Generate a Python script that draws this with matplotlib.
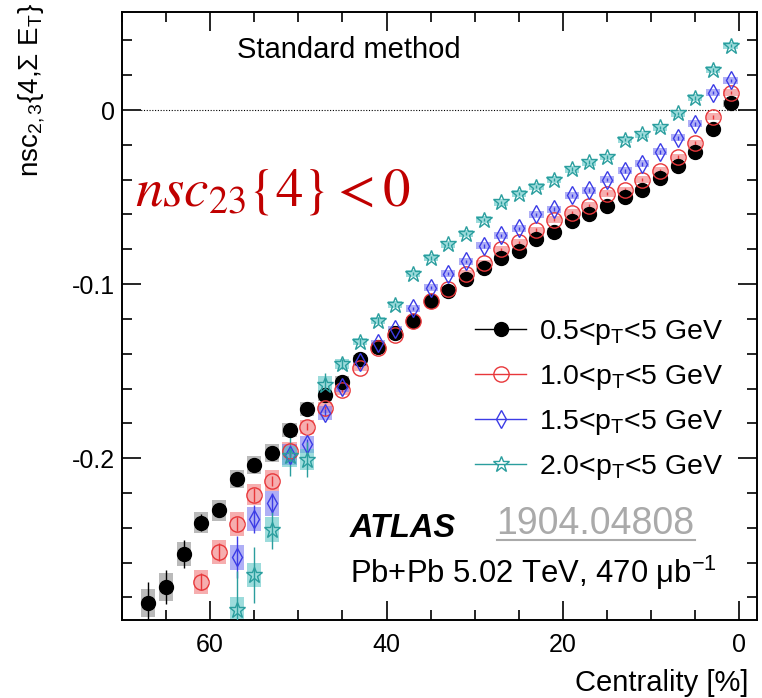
import numpy as np
import matplotlib
matplotlib.use("Agg")
import matplotlib.pyplot as plt
from matplotlib.lines import Line2D
from matplotlib.ticker import MultipleLocator

plt.rcParams['font.family'] = ['Liberation Sans', 'DejaVu Sans']
plt.rcParams['mathtext.fontset'] = 'custom'
plt.rcParams['mathtext.rm'] = 'Liberation Sans'
plt.rcParams['mathtext.it'] = 'Liberation Sans:italic'
plt.rcParams['mathtext.bf'] = 'Liberation Sans:bold'

# centrality bin centres [%]
cent = np.arange(1, 68, 2)

# nsc_{2,3}{4, Sigma E_T} for four pT ranges
nsc_05 = [0.004, -0.011, -0.024, -0.032, -0.039, -0.046, -0.050, -0.055, -0.060, -0.064,
          -0.070, -0.074, -0.081, -0.085, -0.091, -0.097, -0.104, -0.110, -0.121, -0.128,
          -0.136, -0.143, -0.156, -0.164, -0.172, -0.184, -0.197, -0.204, -0.212, -0.230,
          -0.237, -0.255, -0.274, -0.283]
nsc_10 = [0.010, -0.004, -0.019, -0.027, -0.035, -0.040, -0.046, -0.048, -0.055, -0.059,
          -0.063, -0.069, -0.076, -0.080, -0.088, -0.094, -0.103, -0.110, -0.121, -0.129,
          -0.137, -0.148, -0.161, -0.171, -0.182, -0.196, -0.213, -0.221, -0.238, -0.254,
          -0.271]
nsc_15 = [0.017, 0.010, -0.008, -0.016, -0.024, -0.031, -0.035, -0.040, -0.046, -0.049,
          -0.057, -0.060, -0.068, -0.072, -0.078, -0.087, -0.094, -0.102, -0.114, -0.126,
          -0.134, -0.145, -0.159, -0.174, -0.192, -0.198, -0.226, -0.235, -0.257]
nsc_20 = [0.037, 0.023, 0.007, -0.002, -0.010, -0.014, -0.017, -0.027, -0.030, -0.034,
          -0.040, -0.044, -0.048, -0.053, -0.063, -0.071, -0.077, -0.085, -0.094, -0.112,
          -0.121, -0.133, -0.146, -0.158, -0.201, -0.199, -0.241, -0.267, -0.287]

# statistical errors
stat_05 = [0.001] * 26 + [0.002, 0.002, 0.003, 0.004, 0.005, 0.008, 0.010, 0.012]
stat_10 = [0.001] * 24 + [0.002, 0.003, 0.003, 0.004, 0.004, 0.005, 0.005]
stat_15 = [0.001] * 23 + [0.002, 0.003, 0.004, 0.006, 0.008, 0.012]
stat_20 = [0.001] * 20 + [0.002, 0.002, 0.003, 0.007, 0.010, 0.011, 0.011, 0.016, 0.022]

# systematic errors
syst_05 = [0.002] * 22 + [0.003, 0.003, 0.004, 0.004, 0.005, 0.005, 0.005, 0.006,
                          0.006, 0.007, 0.008, 0.008]
syst_10 = [0.002] * 22 + [0.003, 0.003, 0.004, 0.005, 0.006, 0.006, 0.007, 0.007, 0.007]
syst_15 = [0.002] * 22 + [0.003, 0.004, 0.005, 0.006, 0.007, 0.007, 0.007]
syst_20 = [0.002] * 22 + [0.003, 0.005, 0.006, 0.006, 0.007, 0.007, 0.007]

labels = [r'0.5<p$_{\mathrm{T}}$<5 GeV', r'1.0<p$_{\mathrm{T}}$<5 GeV',
          r'1.5<p$_{\mathrm{T}}$<5 GeV', r'2.0<p$_{\mathrm{T}}$<5 GeV']

series = [
    (nsc_05, stat_05, syst_05, 'black', '#8c8c8c', 'o', 'black', 10),
    (nsc_10, stat_10, syst_10, '#e8373a', '#f0787a', 'o', 'none', 11),
    (nsc_15, stat_15, syst_15, '#3c3ce6', '#7a7af0', 'd', 'none', 9),
    (nsc_20, stat_20, syst_20, '#2a9e9e', '#5cc6c6', '*', 'none', 12),
]

fig = plt.figure(figsize=(7.62, 6.98), dpi=100)
ax = fig.add_axes([0.160, 0.1117, 0.8334, 0.8711])

handles = []
for vals, stat, syst, col, boxcol, mk, face, ms in series:
    n = len(vals)
    x = cent[:n]
    y = np.array(vals)
    # systematic boxes
    ax.bar(x, 2 * np.array(syst), bottom=y - np.array(syst), width=1.6,
           color=boxcol, alpha=0.6, linewidth=0, zorder=2)
    ax.errorbar(x, y, yerr=stat, fmt='none', ecolor=col, elinewidth=1.0, zorder=3)
    ax.plot(x, y, linestyle='none', marker=mk, markersize=ms, markerfacecolor=face,
            markeredgecolor=col, markeredgewidth=1.0, zorder=4)
    handles.append(Line2D([], [], color=col, lw=1.0, marker=mk, markersize=ms,
                          markerfacecolor=face, markeredgecolor=col))

ax.hlines(0, 0, 68, colors='black', linestyles=(0, (1, 1.5)), linewidth=0.8, zorder=1)

ax.set_xlim(70, -2)
ax.set_ylim(-0.293, 0.0563)
ax.xaxis.set_major_locator(MultipleLocator(20))
ax.xaxis.set_minor_locator(MultipleLocator(5))
ax.yaxis.set_major_locator(MultipleLocator(0.1))
ax.yaxis.set_minor_locator(MultipleLocator(0.02))
ax.set_yticks([-0.2, -0.1, 0])
ax.set_yticklabels(['-0.2', '-0.1', '0'])
ax.tick_params(which='both', direction='in', top=True, right=True, width=1.2)
ax.tick_params(which='major', length=14, labelsize=18)
ax.tick_params(axis='x', which='major', pad=9)
ax.tick_params(axis='y', which='major', pad=5)
ax.tick_params(which='minor', length=7)
for s in ax.spines.values():
    s.set_linewidth(1.4)

ax.text(0.986, -0.104, 'Centrality [%]', transform=ax.transAxes, ha='right', va='center',
        fontsize=21)
fig.text(0.042, 0.995, r'nsc$_{2,3}${4,Σ E$_{\mathrm{T}}$}', rotation=90, ha='center', va='top',
         fontsize=20)

ax.text(0.181, 0.9375, 'Standard method', transform=ax.transAxes, ha='left', va='center',
        fontsize=21)
ax.text(0.02, 0.704, r'$nsc_{23}\{4\} < 0$', transform=ax.transAxes, ha='left', va='center',
        fontsize=39.5, color='#c00000', math_fontfamily='stix')

ax.text(0.359, 0.150, 'ATLAS', transform=ax.transAxes, ha='left', va='center',
        fontsize=23.5, fontweight='bold', fontstyle='italic')
ax.text(0.590, 0.158, '1904.04808', transform=ax.transAxes, ha='left', va='center',
        fontsize=27, color='#aaaaaa')
ax.plot([0.590, 0.902], [0.131, 0.131], transform=ax.transAxes, color='#aaaaaa', lw=1.5)
ax.text(0.359, 0.077, 'Pb+Pb 5.02 TeV, 470 μb$^{-1}$', transform=ax.transAxes, ha='left',
        va='center', fontsize=22.3)

ax.legend(handles, labels, loc='upper left', bbox_to_anchor=(0.556, 0.497), frameon=False,
          fontsize=20.5, handlelength=1.8, handletextpad=0.45, labelspacing=0.56,
          borderpad=0, borderaxespad=0)

fig.savefig('out.png', dpi=100)
